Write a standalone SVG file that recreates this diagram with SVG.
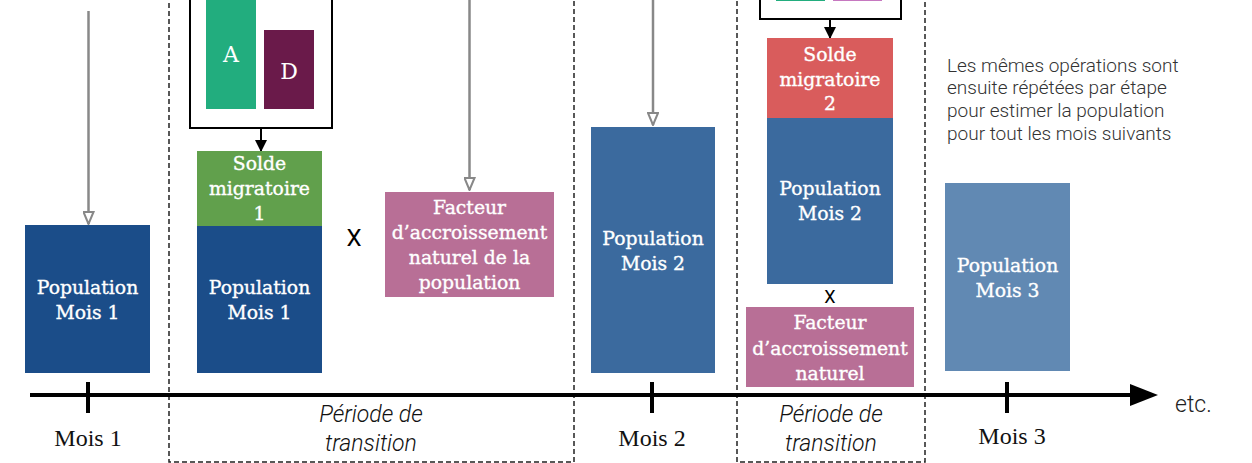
<svg xmlns="http://www.w3.org/2000/svg" width="1252" height="463" viewBox="0 0 1252 463">
<defs>
<marker id="hollow" viewBox="0 0 14 12" refX="13" refY="6" markerWidth="14" markerHeight="12" markerUnits="userSpaceOnUse" orient="auto">
<path d="M1,1 L13,6 L1,11 Z" fill="#fff" stroke="#888" stroke-width="2"/>
</marker>
<marker id="solid" viewBox="0 0 12 12" refX="11" refY="6" markerWidth="12" markerHeight="12" markerUnits="userSpaceOnUse" orient="auto">
<path d="M0,0 L12,6 L0,12 Z" fill="#000"/>
</marker>
<style>
.lbl{font-family:"DejaVu Serif","Liberation Serif",serif;font-size:18.8px;fill:#fff;stroke:#fff;stroke-width:0.35;text-anchor:middle}
.big{font-family:"DejaVu Serif","Liberation Serif",serif;font-size:22px;fill:#fff;text-anchor:middle}
.mois{font-family:"Liberation Serif",serif;font-size:24px;fill:#111;text-anchor:middle}
.per{font-family:Roboto,"Liberation Sans",sans-serif;font-weight:300;font-style:italic;font-size:23px;fill:#111;text-anchor:middle}
.desc{font-family:Roboto,"Liberation Sans",sans-serif;font-weight:300;font-size:19px;fill:#333}
.x{font-family:Roboto,"Liberation Sans",sans-serif;fill:#000;text-anchor:middle}
.dash{fill:none;stroke:#222;stroke-width:1.5;stroke-dasharray:5 3}
.gray{stroke:#888;stroke-width:2.5;fill:none}
.blk{stroke:#000;stroke-width:2;fill:none}
</style>
</defs>
<rect width="1252" height="463" fill="#fff"/>

<g id="periods">
<rect class="dash" x="169" y="-10" width="405" height="472"/>
<rect class="dash" x="737" y="-10" width="188" height="472"/>
</g>

<g id="timeline">
<line x1="30" y1="395" x2="1134" y2="395" stroke="#000" stroke-width="4"/>
<path d="M1130,384 L1158,395 L1130,406 Z" fill="#000"/>
<line x1="88" y1="382" x2="88" y2="413" stroke="#000" stroke-width="4"/>
<line x1="652" y1="382" x2="652" y2="413" stroke="#000" stroke-width="4"/>
<line x1="1007" y1="382" x2="1007" y2="413" stroke="#000" stroke-width="4"/>
<text class="mois" x="88" y="446">Mois 1</text>
<text class="mois" x="652" y="446">Mois 2</text>
<text class="mois" x="1012" y="444">Mois 3</text>
<text class="per" x="371" y="422">Période de</text>
<text class="per" x="371" y="451">transition</text>
<text class="per" x="831" y="422">Période de</text>
<text class="per" x="831" y="451">transition</text>
<text class="desc" x="1175" y="412" style="font-size:23px;fill:#222">etc.</text>
</g>

<g id="connectors">
<line class="gray" x1="88.5" y1="11" x2="88.5" y2="224" marker-end="url(#hollow)"/>
<line class="gray" x1="469.5" y1="-2" x2="469.5" y2="190" marker-end="url(#hollow)"/>
<line class="gray" x1="653" y1="-2" x2="653" y2="125" marker-end="url(#hollow)"/>
<line class="blk" x1="261" y1="128" x2="261" y2="151" marker-end="url(#solid)"/>
<line class="blk" x1="830" y1="19" x2="830" y2="38" marker-end="url(#solid)"/>
</g>

<g id="pop-mois1">
<rect x="25" y="225" width="125" height="148" fill="#1b4d89"/>
<text class="lbl" x="87.5" y="294">Population</text>
<text class="lbl" x="87.5" y="319">Mois 1</text>
</g>

<g id="ad-box-1">
<rect x="190" y="-10" width="142" height="138" fill="#fff" stroke="#000" stroke-width="2"/>
<rect x="206" y="-10" width="50" height="119" fill="#22ad7e"/>
<rect x="264" y="30" width="50" height="79" fill="#6a1a4a"/>
<text class="big" x="231" y="62">A</text>
<text class="big" x="289" y="79">D</text>
</g>

<g id="solde-1">
<rect x="197" y="151" width="125" height="75" fill="#61a04c"/>
<text class="lbl" x="259.5" y="170">Solde</text>
<text class="lbl" x="259.5" y="195">migratoire</text>
<text class="lbl" x="259.5" y="220">1</text>
</g>

<g id="pop-mois1-b">
<rect x="197" y="226" width="125" height="147" fill="#1b4d89"/>
<text class="lbl" x="259.5" y="294">Population</text>
<text class="lbl" x="259.5" y="319">Mois 1</text>
</g>

<g id="times-1">
<text class="x" x="354" y="246" style="font-size:24px">X</text>
</g>

<g id="facteur-1">
<rect x="385" y="192" width="169" height="105" fill="#b86f96"/>
<text class="lbl" x="469.5" y="214">Facteur</text>
<text class="lbl" x="469.5" y="239">d’accroissement</text>
<text class="lbl" x="469.5" y="264">naturel de la</text>
<text class="lbl" x="469.5" y="289">population</text>
</g>

<g id="pop-mois2">
<rect x="591" y="127" width="124" height="246" fill="#3b6a9e"/>
<text class="lbl" x="653" y="245">Population</text>
<text class="lbl" x="653" y="270">Mois 2</text>
</g>

<g id="ad-box-2">
<rect x="760" y="-10" width="141" height="29" fill="#fff" stroke="#000" stroke-width="2"/>
<rect x="776" y="-10" width="49" height="11" fill="#22ad7e"/>
<rect x="833" y="-10" width="49" height="11" fill="#c678c0"/>
</g>

<g id="solde-2">
<rect x="767" y="38" width="126" height="80" fill="#d95c5c"/>
<text class="lbl" x="830" y="61">Solde</text>
<text class="lbl" x="830" y="86">migratoire</text>
<text class="lbl" x="830" y="110">2</text>
</g>

<g id="pop-mois2-b">
<rect x="767" y="118" width="126" height="166" fill="#3b6a9e"/>
<text class="lbl" x="830" y="195">Population</text>
<text class="lbl" x="830" y="220">Mois 2</text>
</g>

<g id="times-2">
<text class="x" x="830" y="303" style="font-size:18px">X</text>
</g>

<g id="facteur-2">
<rect x="746" y="307" width="168" height="80" fill="#b86f96"/>
<text class="lbl" x="830" y="329">Facteur</text>
<text class="lbl" x="830" y="355">d’accroissement</text>
<text class="lbl" x="830" y="380">naturel</text>
</g>

<g id="pop-mois3">
<rect x="945" y="183" width="125" height="188" fill="#6189b3"/>
<text class="lbl" x="1007.5" y="272">Population</text>
<text class="lbl" x="1007.5" y="297">Mois 3</text>
</g>

<g id="note">
<text class="desc" x="947" y="72">Les mêmes opérations sont</text>
<text class="desc" x="947" y="94">ensuite répétées par étape</text>
<text class="desc" x="947" y="117">pour estimer la population</text>
<text class="desc" x="947" y="140">pour tout les mois suivants</text>
</g>
</svg>
